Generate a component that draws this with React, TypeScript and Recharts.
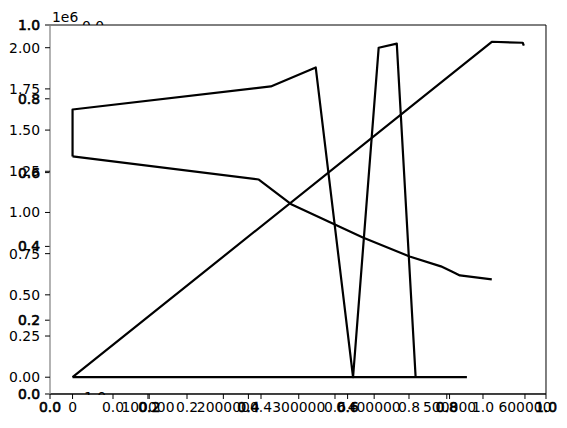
import { LineChart, Line, XAxis, YAxis } from "recharts";

// main data axes (y shown in units of 1e6)
const loopX = [0, 0, 263000, 322500, 372000, 406000, 430000, 455000];
const loopY = [1340000, 1625000, 1765000, 1880000, 0, 2000000, 2025000, 0];
const baseX = [0, 523000];
const baseY = [0, 0];
const decayX = [0, 247000, 290700, 345000, 385000, 447000, 488500, 503000, 513700, 556000];
const decayY = [1340000, 1200000, 1048000, 933000, 848000, 733000, 673000, 642000, 618000, 594000];
const rampX = [0, 556000, 597000, 598500];
const rampY = [0, 2036000, 2030000, 2012000];

const dataXTicks = [0, 100000, 200000, 300000, 400000, 500000, 600000];
const dataYTicks = [0, 250000, 500000, 750000, 1000000, 1250000, 1500000, 1750000, 2000000];
const unitTicks = [0, 0.2, 0.4, 0.6, 0.8, 1];

const toPoints = (xs: number[], ys: number[]) => xs.map((x, i) => ({ x, y: ys[i] }));
// the empty axes need some rows or their x ticks are not drawn
const unitRows = unitTicks.map((u) => ({ u }));

const W = 567;
const H = 428;
const MARGIN = { top: 25, right: 21, bottom: 34, left: 50 };
const THIN = 0.01; // axes sit right on the frame, so they take (almost) no room
const FONT = "DejaVu Sans";
const tickText = { fill: "#000", fontSize: 13.9, fontFamily: FONT };
// the 0-1 frame labels are drawn several times over in the original, so they look heavier
const heavyText = { ...tickText, stroke: "#000", strokeWidth: 0.6 };
const tickLine = { stroke: "#000", strokeWidth: 1 };
const layer = { position: "absolute" as const, left: 0, top: 0 };

export default function App() {
  const series = [
    toPoints(loopX, loopY),
    toPoints(baseX, baseY),
    toPoints(decayX, decayY),
    toPoints(rampX, rampY),
  ];

  return (
    <div style={{ position: "absolute", left: 0, top: 0, width: W, height: H, background: "#fff", fontFamily: FONT }}>
      {/* outer 0..1 axes, also gives the frame */}
      <div style={layer}>
        <LineChart width={W} height={H} margin={MARGIN} data={unitRows}>
          <XAxis
            xAxisId="outer"
            type="number"
            dataKey="u"
            domain={[0, 1]}
            ticks={unitTicks}
            allowDataOverflow
            interval={0}
            height={THIN}
            tickSize={5}
            tickMargin={3}
            tick={heavyText}
            tickLine={tickLine}
            axisLine={{ stroke: "#000" }}
            tickFormatter={(v) => v.toFixed(1)}
          />
          <YAxis
            yAxisId="outer"
            type="number"
            domain={[0, 1]}
            ticks={unitTicks}
            allowDataOverflow
            interval={0}
            width={THIN}
            tickSize={5}
            tickMargin={5}
            tick={heavyText}
            tickLine={tickLine}
            axisLine={{ stroke: "#999" }}
            tickFormatter={(v) => v.toFixed(1)}
          />
          <XAxis xAxisId="top" orientation="top" type="number" dataKey="u" domain={[0, 1]} height={THIN} tick={false} tickLine={false} axisLine={{ stroke: "#000" }} />
          <YAxis yAxisId="right" orientation="right" type="number" domain={[0, 1]} width={THIN} tick={false} tickLine={false} axisLine={{ stroke: "#000" }} />
        </LineChart>
      </div>

      {/* middle axes, only its x ticks show */}
      <div style={layer}>
        <LineChart width={W} height={H} margin={MARGIN} data={unitRows}>
          <XAxis
            xAxisId="mid"
            type="number"
            dataKey="u"
            domain={[-0.1703, 1.1703]}
            ticks={unitTicks}
            allowDataOverflow
            interval={0}
            height={THIN}
            tickSize={5}
            tickMargin={3}
            tick={tickText}
            tickLine={tickLine}
            axisLine={false}
            tickFormatter={(v) => v.toFixed(1)}
          />
          <YAxis yAxisId="mid" type="number" domain={[0, 1]} width={THIN} hide />
        </LineChart>
      </div>

      {/* data axes with the lines */}
      <div style={layer}>
        <LineChart width={W} height={H} margin={MARGIN}>
          <XAxis
            xAxisId="data"
            type="number"
            dataKey="x"
            domain={[-29900, 627900]}
            ticks={dataXTicks}
            allowDataOverflow
            interval={0}
            height={THIN}
            tickSize={5}
            tickMargin={3}
            tick={tickText}
            tickLine={tickLine}
            axisLine={{ stroke: "#000" }}
            tickFormatter={(v) => String(v)}
          />
          <YAxis
            yAxisId="data"
            type="number"
            dataKey="y"
            domain={[-101800, 2137800]}
            ticks={dataYTicks}
            allowDataOverflow
            interval={0}
            width={THIN}
            tickSize={5}
            tickMargin={5}
            tick={tickText}
            tickLine={tickLine}
            axisLine={{ stroke: "#999" }}
            tickFormatter={(v) => (v / 1e6).toFixed(2)}
          />
          {series.map((pts, i) => (
            <Line
              key={i}
              xAxisId="data"
              yAxisId="data"
              data={pts}
              dataKey="y"
              stroke="#000"
              strokeWidth={2.2}
              strokeLinejoin="round"
              dot={false}
              activeDot={false}
              isAnimationActive={false}
            />
          ))}
        </LineChart>
      </div>

      {/* offset text of the data y axis */}
      <div style={{ position: "absolute", left: 52, top: 9, fontSize: 13.9, lineHeight: "16px" }}>1e6</div>

      {/* tick labels of a hidden axes, mostly covered by the plot */}
      <div style={{ position: "absolute", left: 82, top: 18, height: 7, overflow: "hidden", fontSize: 13.9, lineHeight: "16px" }}>
        0.0
      </div>
      <div style={{ position: "absolute", left: 84, top: 389, height: 6, overflow: "hidden", fontSize: 13.9, lineHeight: "16px" }}>
        1.0
      </div>
    </div>
  );
}
